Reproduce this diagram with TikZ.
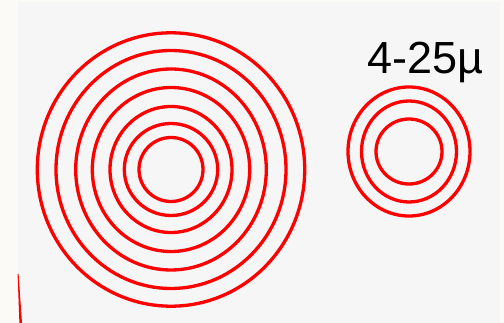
\documentclass[tikz,border=0pt]{standalone}
\usepackage{fontspec}
\setmainfont{Liberation Sans}
\usepackage{tikz}
\usetikzlibrary{positioning}
\definecolor{RingRed}{HTML}{FF0000}
\definecolor{PaperEdge}{HTML}{FBFAF6}
\definecolor{PaperFill}{HTML}{F6F6F6}

\begin{document}
\begin{tikzpicture}[
  x=1pt,y=-1pt,
  ring/.style={draw=RingRed,line width=3.3pt},
  size/.style={font=\fontsize{45}{45}\selectfont,text=black,inner sep=0pt,anchor=base}
]
\useasboundingbox (0,0) rectangle (504,323);
\fill[PaperEdge] (0,0) rectangle (504,323);
\fill[PaperFill] (18,2) rectangle (500,323);

\coordinate (bigc) at (171,169.5);
\coordinate (smallc) at (409,151.5);

% large set of rings
\foreach \rx/\ry in {133.7/136.7,115/119,95.3/100.5,78.7/82,61/63,46.7/46,32/32}
  \draw[ring] (bigc) ellipse ({\rx} and {\ry});

% small set of rings
\foreach \rx/\ry in {61/64.5,47.5/50.5,33/32.5}
  \draw[ring] (smallc) ellipse ({\rx} and {\ry});

\node[size] (range) at (425,74) {4-25µ};

% edge of a ring cut off at the border
\fill[RingRed] (17.6,274) -- (18.6,274) -- (22,323) -- (19.4,323) -- cycle;
\end{tikzpicture}
\end{document}
